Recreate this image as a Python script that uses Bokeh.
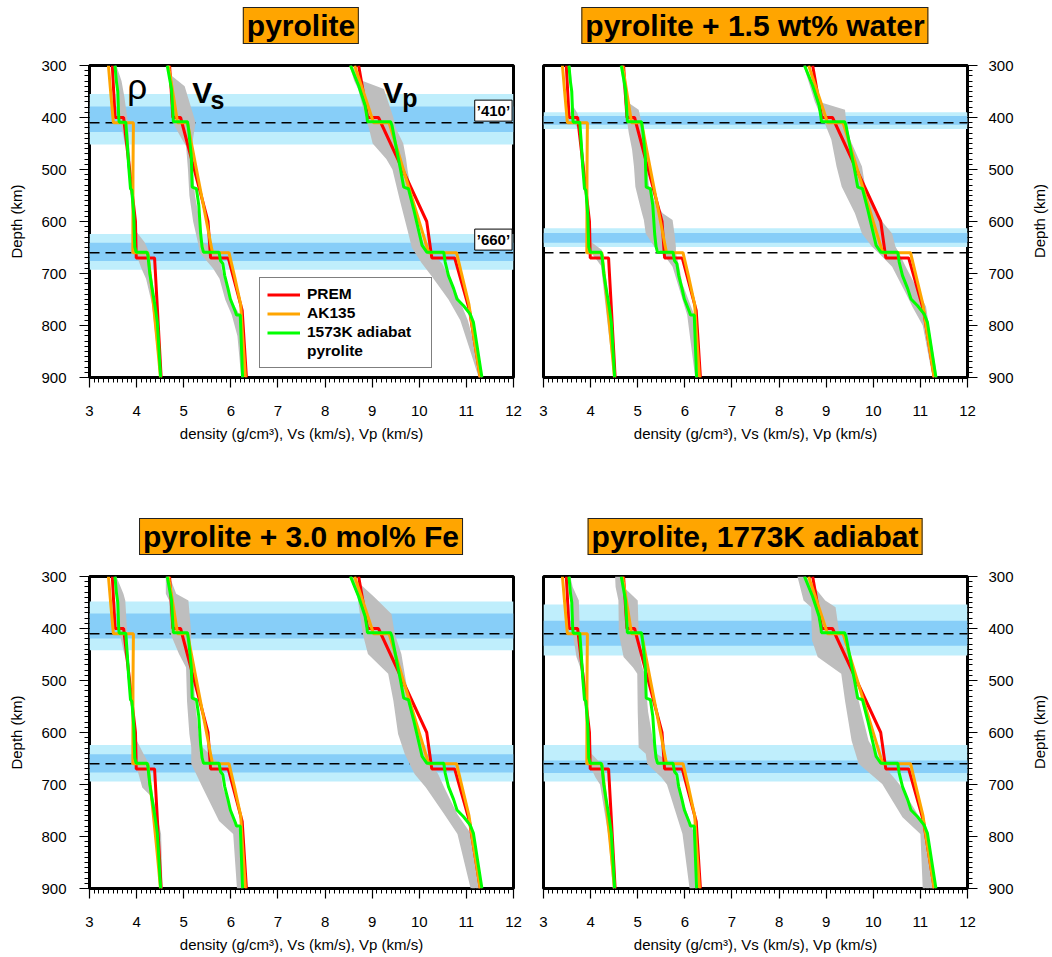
from bokeh.plotting import figure
from bokeh.models import (Range1d, BoxAnnotation, Span, Label, Legend, LegendItem,
                          SingleIntervalTicker, Div)
from bokeh.layouts import column, row
from bokeh.embed import file_html
from bokeh.resources import INLINE

FONT = "Liberation Sans"

# ---------------- data ----------------
panel_titles = ["pyrolite", "pyrolite + 1.5 wt% water",
                "pyrolite + 3.0 mol% Fe", "pyrolite, 1773K adiabat"]
x_label = "density (g/cm\u00b3), Vs (km/s), Vp (km/s)"
y_label = "Depth (km)"
disc_depths = [410, 660]
disc_names = ["\u2019410\u2019", "\u2019660\u2019"]
legend_labels = ["PREM", "AK135", "1573K adiabat", "pyrolite"]

# transition-zone bands per panel: [light top, dark top, dark bottom, light bottom]
band410 = [[355, 379, 428, 452], [390, 397, 414, 422], [348, 371, 419, 442], [354, 385, 433, 452]]
band660 = [[624, 641, 676, 693], [613, 622, 641, 649], [624, 642, 677, 694], [624, 654, 678, 694]]

prem_depth = [300, 400, 400, 600, 670, 670, 771, 900]
prem_rho = [3.484, 3.543, 3.724, 3.976, 3.992, 4.381, 4.443, 4.521]
prem_vs = [4.700, 4.770, 4.933, 5.516, 5.570, 5.945, 6.241, 6.331]
prem_vp = [8.713, 8.905, 9.134, 10.158, 10.266, 10.751, 11.066, 11.295]

ak135_depth = [300, 310, 360, 410, 410, 460, 510, 560, 610, 660, 660, 710, 760, 809.5, 859, 900]
ak135_rho = [3.402, 3.411, 3.458, 3.507, 3.932, 3.927, 3.923, 3.922, 3.921, 3.920,
             4.239, 4.299, 4.357, 4.412, 4.465, 4.507]
ak135_vs = [4.679, 4.696, 4.783, 4.870, 5.081, 5.186, 5.292, 5.399, 5.505, 5.610,
            5.961, 6.090, 6.210, 6.242, 6.280, 6.310]
ak135_vp = [8.629, 8.665, 8.848, 9.030, 9.360, 9.528, 9.696, 9.864, 10.032, 10.200,
            10.791, 10.922, 11.055, 11.136, 11.223, 11.292]

pyr_rho_depth = [300, 330, 350, 400, 409, 409, 447, 492, 537, 540, 588, 649, 659, 659, 665, 700, 729, 768, 794, 900]
pyr_rho = [3.54, 3.57, 3.60, 3.62, 3.63, 3.77, 3.80, 3.83, 3.87, 3.90, 3.94, 3.96, 3.99,
           4.22, 4.24, 4.28, 4.33, 4.40, 4.44, 4.51]
pyr_vs_depth = [300, 345, 399, 408, 408, 428, 473, 534, 537, 569, 624, 649, 659, 659, 675, 681,
                704, 729, 749, 774, 780, 780, 900]
pyr_vs = [4.65, 4.74, 4.775, 4.78, 5.08, 5.11, 5.16, 5.18, 5.27, 5.32, 5.36, 5.39, 5.42, 5.75,
          5.78, 5.83, 5.87, 5.94, 5.99, 6.10, 6.12, 6.20, 6.25]
pyr_vp_depth = [300, 338, 377, 399, 408, 408, 415, 467, 499, 534, 537, 576, 646, 659, 659, 678,
                704, 729, 749, 762, 778, 794, 900]
pyr_vp = [8.54, 8.71, 8.85, 8.89, 8.90, 9.39, 9.42, 9.53, 9.60, 9.67, 9.77, 9.88, 10.06, 10.16,
          10.52, 10.55, 10.62, 10.73, 10.80, 10.94, 11.08, 11.15, 11.33]

# grey envelopes (depth, min, max) per panel
env1_rho_d = [300, 330, 360, 400, 410, 450, 460, 540, 600, 620, 640, 660, 690, 710, 760, 900]
env1_rho_lo = [3.53, 3.56, 3.59, 3.61, 3.66, 3.75, 3.80, 3.86, 3.93, 3.95, 3.96, 3.98, 4.10, 4.20, 4.33, 4.49]
env1_rho_hi = [3.57, 3.68, 3.74, 3.80, 3.82, 3.84, 3.85, 3.92, 3.97, 4.00, 4.17, 4.27, 4.30, 4.32, 4.40, 4.53]
env1_vs_d = [300, 320, 340, 400, 410, 440, 455, 500, 550, 600, 640, 660, 690, 710, 750, 780, 820, 900]
env1_vs_lo = [4.64, 4.68, 4.72, 4.74, 4.77, 4.95, 5.05, 5.09, 5.12, 5.20, 5.30, 5.34, 5.62, 5.76, 5.88, 6.02, 6.14, 6.22]
env1_vs_hi = [4.69, 4.75, 5.02, 5.22, 5.25, 5.20, 5.17, 5.19, 5.24, 5.34, 5.40, 5.76, 5.80, 5.86, 6.00, 6.19, 6.22, 6.27]
env1_vp_d = [300, 330, 345, 400, 420, 450, 480, 500, 560, 620, 650, 680, 705, 750, 790, 840, 900]
env1_vp_lo = [8.52, 8.62, 8.70, 8.86, 8.93, 9.01, 9.30, 9.43, 9.59, 9.76, 9.84, 10.05, 10.26, 10.62, 10.87, 11.05, 11.26]
env1_vp_hi = [8.57, 8.80, 9.25, 9.45, 9.50, 9.66, 9.72, 9.75, 9.86, 10.02, 10.12, 10.48, 10.62, 10.85, 11.03, 11.18, 11.34]

env2_rho_d = [300, 380, 392, 410, 424, 500, 600, 640, 655, 670, 685, 900]
env2_rho_lo = [3.53, 3.60, 3.60, 3.64, 3.76, 3.84, 3.93, 3.96, 3.96, 4.10, 4.22, 4.49]
env2_rho_hi = [3.57, 3.64, 3.72, 3.78, 3.80, 3.88, 3.97, 4.02, 4.24, 4.28, 4.29, 4.53]
env2_vs_d = [300, 370, 385, 430, 462, 494, 533, 559, 584, 597, 623, 648, 661, 687, 720, 780, 900]
env2_vs_lo = [4.64, 4.72, 4.74, 4.81, 4.88, 4.92, 4.95, 5.02, 5.09, 5.13, 5.17, 5.35, 5.53, 5.74, 5.85, 6.05, 6.22]
env2_vs_hi = [4.69, 4.78, 5.02, 5.13, 5.17, 5.20, 5.24, 5.35, 5.53, 5.74, 5.78, 5.81, 5.81, 5.88, 5.95, 6.20, 6.27]
env2_vp_d = [300, 370, 385, 411, 443, 494, 533, 584, 623, 648, 661, 687, 738, 764, 800, 900]
env2_vp_lo = [8.52, 8.76, 8.83, 8.97, 9.11, 9.22, 9.33, 9.61, 9.76, 9.97, 10.12, 10.40, 10.69, 10.83, 11.05, 11.26]
env2_vp_hi = [8.57, 8.86, 9.40, 9.43, 9.51, 9.76, 9.83, 10.04, 10.40, 10.47, 10.55, 10.69, 10.98, 11.12, 11.18, 11.36]

env3_rho_d = [300, 333, 346, 410, 449, 470, 600, 615, 640, 660, 706, 720, 795, 900]
env3_rho_lo = [3.53, 3.57, 3.60, 3.64, 3.74, 3.80, 3.93, 3.95, 3.96, 3.98, 4.12, 4.28, 4.42, 4.49]
env3_rho_hi = [3.57, 3.72, 3.76, 3.80, 3.82, 3.85, 3.97, 4.00, 4.14, 4.26, 4.26, 4.34, 4.52, 4.55]
env3_vs_d = [300, 333, 346, 410, 449, 475, 540, 603, 629, 660, 706, 770, 795, 900]
env3_vs_lo = [4.62, 4.62, 4.69, 4.72, 4.90, 5.05, 5.07, 5.12, 5.16, 5.16, 5.40, 5.75, 6.05, 6.13]
env3_vs_hi = [4.70, 4.84, 5.10, 5.16, 5.14, 5.20, 5.24, 5.32, 5.40, 5.76, 5.83, 6.10, 6.22, 6.25]
env3_vp_d = [300, 340, 372, 410, 449, 487, 539, 603, 641, 680, 706, 757, 795, 900]
env3_vp_lo = [8.52, 8.69, 8.74, 8.80, 8.91, 9.34, 9.45, 9.55, 9.69, 9.90, 10.14, 10.53, 10.81, 11.09]
env3_vp_hi = [8.57, 9.05, 9.41, 9.48, 9.62, 9.69, 9.79, 9.98, 10.12, 10.40, 10.53, 10.81, 11.10, 11.30]

env4_rho_d = [300, 320, 346, 410, 455, 475, 487, 600, 641, 660, 686, 700, 800, 900]
env4_rho_lo = [3.53, 3.55, 3.59, 3.62, 3.70, 3.78, 3.82, 3.92, 3.95, 3.97, 4.10, 4.20, 4.38, 4.47]
env4_rho_hi = [3.57, 3.62, 3.75, 3.77, 3.80, 3.84, 3.87, 3.97, 4.02, 4.22, 4.25, 4.28, 4.46, 4.53]
env4_vs_d = [300, 320, 346, 410, 455, 475, 487, 560, 629, 641, 660, 686, 700, 795, 900]
env4_vs_lo = [4.52, 4.53, 4.59, 4.60, 4.70, 4.90, 4.99, 5.00, 5.02, 5.17, 5.20, 5.50, 5.62, 5.95, 6.10]
env4_vs_hi = [4.66, 4.70, 5.00, 5.02, 5.05, 5.10, 5.15, 5.22, 5.35, 5.40, 5.74, 5.80, 5.84, 6.20, 6.26]
env4_vp_d = [300, 346, 359, 423, 455, 487, 539, 616, 660, 699, 763, 795, 900]
env4_vp_lo = [8.39, 8.52, 8.68, 8.70, 8.82, 9.32, 9.40, 9.54, 9.69, 10.19, 10.62, 11.00, 11.05]
env4_vp_hi = [8.57, 8.98, 9.20, 9.30, 9.54, 9.61, 9.69, 9.90, 10.19, 10.55, 10.98, 11.12, 11.30]

envelopes = [
    [(env1_rho_d, env1_rho_lo, env1_rho_hi), (env1_vs_d, env1_vs_lo, env1_vs_hi), (env1_vp_d, env1_vp_lo, env1_vp_hi)],
    [(env2_rho_d, env2_rho_lo, env2_rho_hi), (env2_vs_d, env2_vs_lo, env2_vs_hi), (env2_vp_d, env2_vp_lo, env2_vp_hi)],
    [(env3_rho_d, env3_rho_lo, env3_rho_hi), (env3_vs_d, env3_vs_lo, env3_vs_hi), (env3_vp_d, env3_vp_lo, env3_vp_hi)],
    [(env4_rho_d, env4_rho_lo, env4_rho_hi), (env4_vs_d, env4_vs_lo, env4_vs_hi), (env4_vp_d, env4_vp_lo, env4_vp_hi)],
]

# ---------------- style ----------------
RED, ORANGE, GREEN = "#FF0000", "#FFA500", "#00FF00"
GREY = "#BEBEBE"
LIGHT_BLUE, DARK_BLUE = "#BFEEFC", "#87CEF8"
FW, FH = 424, 312
SIDE_W = 36
LEFT_B, MID_B_L, MID_B_R, RIGHT_B = 89, 15, 15, 85 - SIDE_W
TOP_B = 12


def style_axis(ax, interval):
    ax.ticker = SingleIntervalTicker(interval=interval, num_minor_ticks=10)
    ax.axis_line_color = None
    ax.major_tick_out = 10
    ax.major_tick_in = 0
    ax.minor_tick_out = 5
    ax.minor_tick_in = 0
    ax.major_tick_line_width = 1.2
    ax.minor_tick_line_width = 1
    ax.major_tick_line_color = "black"
    ax.minor_tick_line_color = "black"
    ax.major_label_text_font = FONT
    ax.major_label_text_font_size = "15px"
    ax.major_label_text_color = "black"
    ax.axis_label_text_font = FONT
    ax.axis_label_text_font_size = "15px"
    ax.axis_label_text_font_style = "normal"
    ax.axis_label_text_color = "black"


def make_panel(i, side, top_row):
    kw = dict(frame_width=FW, frame_height=FH, output_backend="svg", toolbar_location=None,
              x_range=Range1d(3, 12), y_range=Range1d(900, 300),
              y_axis_location=side, background_fill_color="white", border_fill_color="white")
    p = figure(**kw)
    if side == "left":
        p.min_border_left, p.min_border_right = LEFT_B, MID_B_L
    else:
        p.min_border_left, p.min_border_right = MID_B_R, RIGHT_B
    p.min_border_top = TOP_B
    p.min_border_bottom = 133 if top_row else 68
    p.xgrid.visible = False
    p.ygrid.visible = False
    p.outline_line_color = "black"
    p.outline_line_width = 3
    p.outline_line_alpha = 1

    style_axis(p.xaxis[0], 1)
    style_axis(p.yaxis[0], 100)
    p.xaxis[0].axis_label = x_label
    p.xaxis[0].major_label_standoff = 18
    p.xaxis[0].axis_label_standoff = 6
    if side == "left":
        p.yaxis[0].axis_label = y_label
        p.yaxis[0].major_label_standoff = 13
        p.yaxis[0].axis_label_standoff = 13
    else:
        p.yaxis[0].major_label_standoff = 11

    # bands
    for b in (band410[i], band660[i]):
        p.add_layout(BoxAnnotation(top=b[0], bottom=b[3], fill_color=LIGHT_BLUE, fill_alpha=1,
                                   line_color=None, level="underlay"))
        p.add_layout(BoxAnnotation(top=b[1], bottom=b[2], fill_color=DARK_BLUE, fill_alpha=1,
                                   line_color=None, level="underlay"))
    for d in disc_depths:
        p.add_layout(Span(location=d, dimension="width", line_color="black", line_width=1.5,
                          line_dash="10 6", level="underlay"))

    # grey envelopes
    for (d, lo, hi) in envelopes[i]:
        p.harea(x1=lo, x2=hi, y=d, fill_color=GREY, fill_alpha=1)

    rr = []
    for xs in (prem_rho, prem_vs, prem_vp):
        rr.append(p.line(xs, prem_depth, line_color=RED, line_width=3))
    ro = []
    for xs in (ak135_rho, ak135_vs, ak135_vp):
        ro.append(p.line(xs, ak135_depth, line_color=ORANGE, line_width=3))
    rg = []
    for xs, ds in ((pyr_rho, pyr_rho_depth), (pyr_vs, pyr_vs_depth), (pyr_vp, pyr_vp_depth)):
        rg.append(p.line(xs, ds, line_color=GREEN, line_width=3))

    if i == 0:
        blank = p.line([], [], line_alpha=0)
        items = [LegendItem(label=legend_labels[0], renderers=[rr[0]]),
                 LegendItem(label=legend_labels[1], renderers=[ro[0]]),
                 LegendItem(label=legend_labels[2], renderers=[rg[0]]),
                 LegendItem(label=legend_labels[3], renderers=[blank])]
        lg = Legend(items=items, location=(170, 9), border_line_color="black",
                    border_line_width=1, background_fill_color="white", background_fill_alpha=1,
                    label_text_font=FONT, label_text_font_style="bold",
                    label_text_font_size="15.5px", label_text_color="black",
                    glyph_width=33, glyph_height=17, label_height=17, label_width=117,
                    label_standoff=7, spacing=1, padding=7, margin=0)
        p.add_layout(lg)
        # symbol labels
        sym = dict(text_font=FONT, text_color="black", text_baseline="alphabetic", text_align="left")
        p.add_layout(Label(x=3.80, y=340, text="\u03c1", text_font_size="35px", **sym))
        p.add_layout(Label(x=5.18, y=351, text="V", text_font_size="30px", text_font_style="bold", **sym))
        p.add_layout(Label(x=5.57, y=367, text="s", text_font_size="25px", text_font_style="bold", **sym))
        p.add_layout(Label(x=9.23, y=351, text="V", text_font_size="30px", text_font_style="bold", **sym))
        p.add_layout(Label(x=9.64, y=362, text="p", text_font_size="25px", text_font_style="bold", **sym))
        for d, name, yb in zip(disc_depths, disc_names, (407, 655)):
            p.add_layout(Label(x=11.97, y=yb, text=name, text_align="right",
                               text_baseline="bottom", text_font=FONT, text_font_size="15px",
                               text_font_style="bold", text_color="black",
                               background_fill_color="white", border_line_color="black",
                               border_line_width=1, padding=2))
    return p


def side_label(height):
    html = ('<div style="position:relative;width:%dpx;height:%dpx;">'
            '<span style="position:absolute;left:24px;top:%dpx;'
            'transform:translate(-50%%,-50%%) rotate(-90deg);white-space:nowrap;'
            'font-family:\'%s\';font-size:15px;color:#000;">%s</span></div>'
            % (SIDE_W, height, TOP_B + FH // 2, FONT, y_label))
    return Div(text=html, width=SIDE_W, height=height, margin=0)


def title_box(text, width, height, center_x, box_top):
    html = ('<div style="position:relative;width:%dpx;height:%dpx;">'
            '<span style="position:absolute;left:%dpx;top:%dpx;transform:translateX(-50%%);'
            'white-space:nowrap;background:#FFA500;border:1px solid #222;padding:0 3px;'
            'font-family:\'%s\';font-weight:bold;font-size:30px;line-height:35px;color:#000;">'
            '%s</span></div>' % (width, height, center_x, box_top, FONT, text))
    return Div(text=html, width=width, height=height, margin=0)


W_LEFT = LEFT_B + FW + MID_B_L
W_RIGHT = MID_B_R + FW + RIGHT_B + SIDE_W
TITLE_H_TOP = 65 - TOP_B
TITLE_H_BOT = 66 - TOP_B

p1 = make_panel(0, "left", True)
p2 = make_panel(1, "right", True)
p3 = make_panel(2, "left", False)
p4 = make_panel(3, "right", False)

h_top = TOP_B + FH + 133
h_bot = TOP_B + FH + 68

layout = column(
    row(title_box(panel_titles[0], W_LEFT, TITLE_H_TOP, LEFT_B + FW // 2, 7),
        title_box(panel_titles[1], W_RIGHT, TITLE_H_TOP, MID_B_R + FW // 2, 7)),
    row(p1, p2, side_label(h_top)),
    row(title_box(panel_titles[2], W_LEFT, TITLE_H_BOT, LEFT_B + FW // 2, 8),
        title_box(panel_titles[3], W_RIGHT, TITLE_H_BOT, MID_B_R + FW // 2, 8)),
    row(p3, p4, side_label(h_bot)),
)
open("out.html", "w").write(file_html(layout, INLINE))
